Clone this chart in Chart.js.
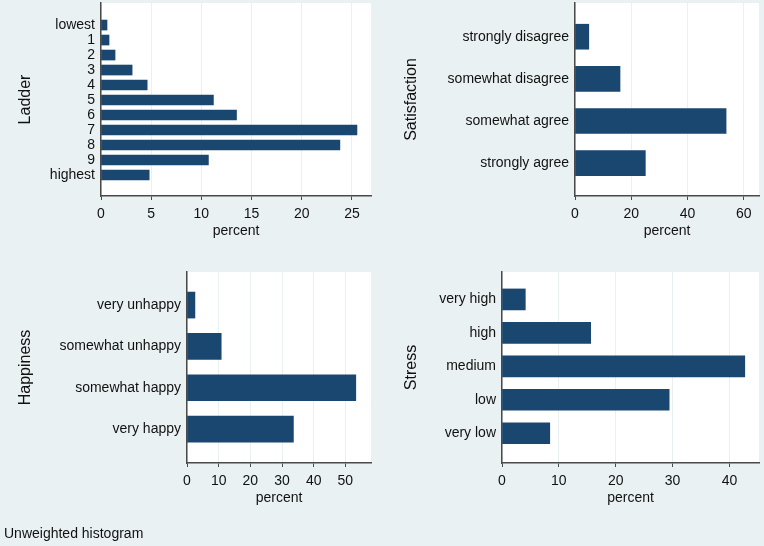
<!DOCTYPE html>
<html>
<head>
<meta charset="utf-8">
<script src="https://cdn.jsdelivr.net/npm/chart.js@4"></script>
<style>
html,body{margin:0;padding:0;background:#eaf1f3;}
#wrap{position:relative;width:764px;height:546px;overflow:hidden;background:#eaf1f3;}
canvas{position:absolute;}
#note{position:absolute;left:4px;top:525px;font:14px "Liberation Sans",Arial,sans-serif;color:#111;}
</style>
</head>
<body>
<div id="wrap">
<canvas id="ladder" width="382" height="270" style="left:0;top:0"></canvas>
<canvas id="satisfaction" width="382" height="270" style="left:382px;top:0"></canvas>
<canvas id="happiness" width="382" height="276" style="left:0;top:270px"></canvas>
<canvas id="stress" width="382" height="276" style="left:382px;top:270px"></canvas>
<div id="note">Unweighted histogram</div>
</div>
<script>
// DATA

const ladderLabels = ["lowest","1","2","3","4","5","6","7","8","9","highest"];
const ladderValues = [0.6,0.8,1.4,3.1,4.6,11.2,13.5,25.5,23.8,10.7,4.8];
const ladderTicks = [0,5,10,15,20,25];

const satisfactionLabels = ["strongly disagree","somewhat disagree","somewhat agree","strongly agree"];
const satisfactionValues = [4.9,16.0,53.7,25.0];
const satisfactionTicks = [0,20,40,60];

const happinessLabels = ["very unhappy","somewhat unhappy","somewhat happy","very happy"];
const happinessValues = [2.5,10.8,53.3,33.6];
const happinessTicks = [0,10,20,30,40,50];

const stressLabels = ["very high","high","medium","low","very low"];
const stressValues = [4.1,15.6,42.7,29.4,8.4];
const stressTicks = [0,10,20,30,40];

Chart.defaults.font.family = '"Liberation Sans", Arial, Helvetica, sans-serif';

const navy = "#1a476f";
const axisGray = "#4a4a4a";

// white plot region
const plotBg = {
id:"plotBg",
beforeDraw(chart){
const a = chart.chartArea;
const c = chart.ctx;
c.save();
c.fillStyle = "#fff";
c.fillRect(a.left, a.top, a.right - a.left, a.bottom - a.top);
c.restore();
}
};

function panel(id, title, labels, values, ticks, p){
new Chart(document.getElementById(id), {
type:"bar",
data:{
datasets:[{
data: values.map((v, i) => ({x: v, y: i})),
backgroundColor: navy,
barThickness: p.bar
}]
},
options:{
indexAxis:"y",
responsive:false,
animation:false,
layout:{padding:{left:0, top:p.top, right:p.right, bottom:p.bottom}},
plugins:{legend:{display:false}, tooltip:{enabled:false}},
scales:{
x:{
type:"linear",
min:0,
max:p.xMax,
afterBuildTicks: s => { s.ticks = ticks.map(v => ({value: v})); },
grid:{color:"#e9f0f2", tickColor:axisGray, tickLength:4},
border:{color:axisGray, width:1.5},
ticks:{color:"#111", font:{size:14}, padding:6, maxRotation:0},
title:{display:true, text:"percent", color:"#111", font:{size:14}, padding:{top:0, bottom:6}},
afterFit: s => { s.height = 50; s.paddingLeft = 0; s.paddingRight = 0; }
},
y:{
type:"linear",
reverse:true,
offset:false,
min:p.yMin,
max:p.yMax,
afterBuildTicks: s => { s.ticks = labels.map((l, i) => ({value: i})); },
grid:{display:false, drawTicks:false, offset:false},
border:{color:axisGray, width:1.5},
ticks:{color:"#111", font:{size:14}, padding:6, autoSkip:false, callback: v => labels[v]},
title:{display:true, text:title, color:"#111", font:{size:16}, padding:{top:p.titlePad, bottom:0}},
afterFit: s => { s.width = p.yWidth; s.paddingTop = 0; s.paddingBottom = 0; }
}
}
},
plugins:[plotBg]
});
}

// LADDER
panel("ladder", "Ladder", ladderLabels, ladderValues, ladderTicks,
{top:3, right:11, bottom:24, yWidth:101, xMax:26.9, yMin:-1.47, yMax:11.4, bar:10, titlePad:16});

// SATISFACTION
panel("satisfaction", "Satisfaction", satisfactionLabels, satisfactionValues, satisfactionTicks,
{top:3, right:5, bottom:24, yWidth:193, xMax:65.4, yMin:-0.8, yMax:3.78, bar:25, titlePad:20});

// HAPPINESS
panel("happiness", "Happiness", happinessLabels, happinessValues, happinessTicks,
{top:2, right:11, bottom:33, yWidth:187, xMax:58.1, yMin:-0.8, yMax:3.82, bar:26, titlePad:16});

// STRESS
panel("stress", "Stress", stressLabels, stressValues, stressTicks,
{top:2, right:5, bottom:33, yWidth:120, xMax:45.2, yMin:-0.82, yMax:4.89, bar:21, titlePad:20});
</script>
</body>
</html>
